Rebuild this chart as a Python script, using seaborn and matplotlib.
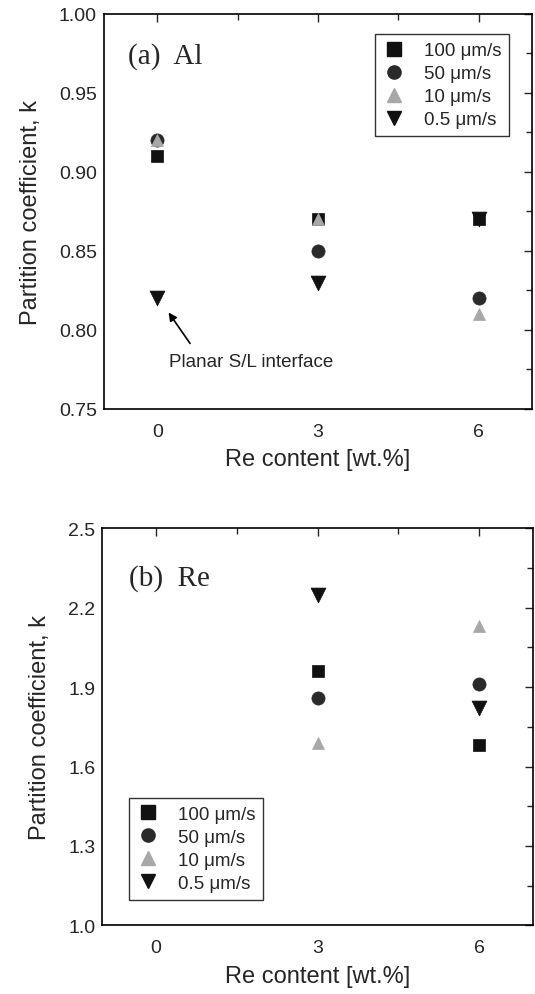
import pandas as pd
import seaborn as sns
import matplotlib.pyplot as plt
from matplotlib.ticker import MultipleLocator, FixedLocator
from matplotlib.lines import Line2D

re_content = [0, 3, 6]
speeds = ["100 \u03bcm/s", "50 \u03bcm/s", "10 \u03bcm/s", "0.5 \u03bcm/s"]

# partition coefficient of Al, one list per growth speed
k_al_100 = [0.91, 0.87, 0.87]
k_al_50 = [0.92, 0.85, 0.82]
k_al_10 = [0.92, 0.87, 0.81]
k_al_05 = [0.82, 0.83, 0.87]

# partition coefficient of Re (no value at 0 wt.%)
k_re_100 = [None, 1.96, 1.68]
k_re_50 = [None, 1.86, 1.91]
k_re_10 = [None, 1.69, 2.13]
k_re_05 = [None, 2.25, 1.82]

re_major = [1.0, 1.3, 1.6, 1.9, 2.2, 2.5]
re_minor = [1.15, 1.45, 1.75, 2.05, 2.35]

def to_long(series):
    rows = []
    for speed, vals in zip(speeds, series):
        for x, v in zip(re_content, vals):
            if v is not None:
                rows.append({"re": x, "k": v, "speed": speed})
    return pd.DataFrame(rows)

df_al = to_long([k_al_100, k_al_50, k_al_10, k_al_05])
df_re = to_long([k_re_100, k_re_50, k_re_10, k_re_05])

sns.set_style("white")
plt.rcParams["font.family"] = ["Liberation Sans", "DejaVu Sans"]

markers = dict(zip(speeds, ["s", "o", "^", "v"]))
palette = dict(zip(speeds, ["#111111", "#2a2a2a", "#a8a8a8", "#111111"]))
sizes = dict(zip(speeds, [85, 90, 75, 115]))

fig = plt.figure(figsize=(5.35, 9.95), dpi=100)
ax1 = fig.add_axes([0.194, 0.588, 0.801, 0.397])
ax2 = fig.add_axes([0.191, 0.069, 0.805, 0.399])

for ax, df in [(ax1, df_al), (ax2, df_re)]:
    for sp in speeds:
        d = df[df["speed"] == sp]
        sns.scatterplot(data=d, x="re", y="k", marker=markers[sp], color=palette[sp],
                        s=sizes[sp], edgecolor=palette[sp], linewidth=0.5, ax=ax, zorder=3)
    ax.set_xlim(-1, 7)
    ax.xaxis.set_major_locator(MultipleLocator(3))
    ax.xaxis.set_minor_locator(MultipleLocator(1.5))
    ax.tick_params(which="both", direction="in", top=True, right=True, labelsize=14)
    ax.tick_params(which="major", length=6, width=1)
    ax.tick_params(which="minor", length=4, width=1)
    ax.tick_params(axis="x", pad=10)
    ax.tick_params(axis="y", pad=5)
    for s in ax.spines.values():
        s.set_linewidth(1.2)
        s.set_color("black")
    ax.set_xlabel("Re content [wt.%]", fontsize=17, labelpad=6)
    ax.set_ylabel("Partition coefficient, k", fontsize=17, labelpad=12)

ax1.set_ylim(0.75, 1.00)
ax1.yaxis.set_major_locator(MultipleLocator(0.05))
ax1.yaxis.set_minor_locator(MultipleLocator(0.025))
ax1.yaxis.set_major_formatter(lambda v, p: f"{v:.2f}")

ax2.set_ylim(1.0, 2.5)
ax2.yaxis.set_major_locator(FixedLocator(re_major))
ax2.yaxis.set_minor_locator(FixedLocator(re_minor))
ax2.yaxis.set_major_formatter(lambda v, p: f"{v:.1f}")

ax1.text(0.056, 0.894, "(a)  Al", transform=ax1.transAxes, fontsize=21,
         family="Liberation Serif", va="center")
ax2.text(0.062, 0.877, "(b)  Re", transform=ax2.transAxes, fontsize=21,
         family="Liberation Serif", va="center")

ax1.annotate("", xy=(0.18, 0.8125), xytext=(0.64, 0.790),
             arrowprops=dict(arrowstyle="-|>", color="black", lw=1.2, mutation_scale=12))
ax1.text(0.22, 0.780, "Planar S/L interface", fontsize=13.5, va="center")

handles = [Line2D([], [], linestyle="none", marker=markers[sp], color=palette[sp],
                  markersize=9.5, label=sp) for sp in speeds]
for ax, kw in [(ax1, dict(loc="upper right", bbox_to_anchor=(0.945, 0.948))),
               (ax2, dict(loc="lower left", bbox_to_anchor=(0.062, 0.065)))]:
    leg = ax.legend(handles=handles, fontsize=13.5, frameon=True, fancybox=False,
                    edgecolor="black", handletextpad=1.0, borderpad=0.4,
                    labelspacing=0.32, handlelength=1.2, borderaxespad=0, **kw)
    leg.get_frame().set_linewidth(1.0)

fig.savefig("out.png", dpi=100)
